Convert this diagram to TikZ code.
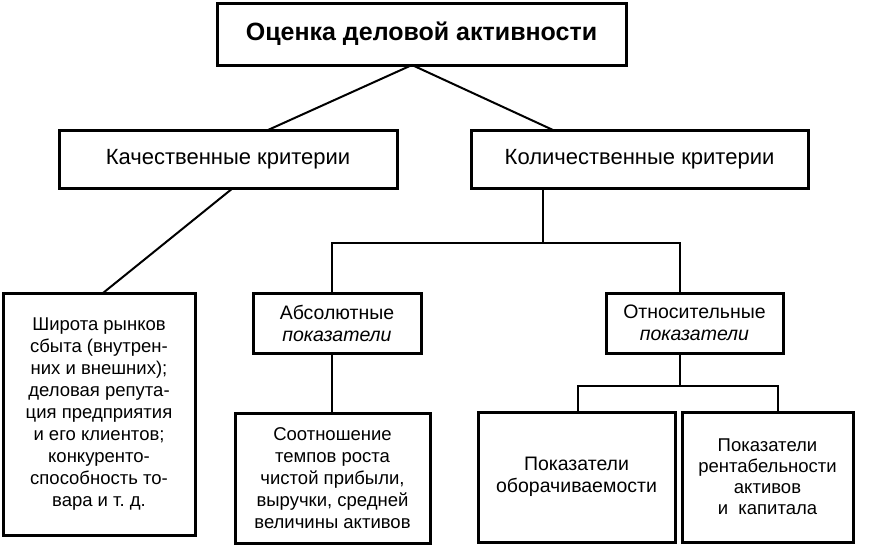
\documentclass[tikz,border=0pt]{standalone}
\usepackage{fontspec}
\setmainfont{Liberation Sans}
\frenchspacing
\begin{document}
\begin{tikzpicture}[x=1pt,y=-1pt,
  box/.style={draw,line width=3pt,inner sep=0pt,align=center,text=black},
  conn/.style={line width=2pt},
  midtxt/.style={font=\fontsize{18.5}{22}\selectfont},
  smalltxt/.style={font=\fontsize{19.5}{22}\selectfont}]
\useasboundingbox (0,0) rectangle (878,547);
\node[box,font=\fontsize{25}{29}\selectfont\bfseries,minimum width=409pt,minimum height=62pt] (top) at (421.5,34) {Оценка деловой активности};
\node[box,font=\fontsize{22}{26}\selectfont,minimum width=338pt,minimum height=58pt] (qual) at (228,159) {Качественные критерии};
\node[box,font=\fontsize{22}{26}\selectfont,minimum width=337pt,minimum height=58pt] (quant) at (639.5,159) {Количественные критерии};
\node[box,midtxt,minimum width=192pt,minimum height=242pt] (wide) at (99,414) {Широта рынков\\сбыта (внутрен-\\них и внешних);\\деловая репута-\\ция предприятия\\и его клиентов;\\конкуренто-\\способность то-\\вара и т. д.};
\node[box,smalltxt,minimum width=168pt,minimum height=60pt] (abs) at (337,323) {Абсолютные\\\textit{показатели}};
\node[box,midtxt,minimum width=195pt,minimum height=130pt] (ratio) at (332.5,478) {Соотношение\\темпов роста\\чистой прибыли,\\выручки, средней\\величины активов};
\node[box,smalltxt,minimum width=177pt,minimum height=60pt] (rel) at (694.5,323) {Относительные\\\textit{показатели}};
\node[box,font=\fontsize{19.5}{22}\selectfont,minimum width=197pt,minimum height=130pt] (turn) at (576.5,477) {Показатели\\оборачиваемости};
\node[box,font=\fontsize{18.5}{21}\selectfont,minimum width=171pt,minimum height=130pt] (prof) at (767.5,477) {Показатели\\рентабельности\\активов\\и\ \ капитала};
% connectors
\coordinate (tb) at (412,65);
\coordinate (qn) at (268,130);
\coordinate (kn) at (553,130);
\draw[conn] (qn) -- (tb) -- (kn);
\coordinate (qs) at (233,188);
\coordinate (wn) at (103,293);
\draw[conn] (qs) -- (wn);
\coordinate (bus1) at (543,243);
\coordinate (absx) at (332,243);
\coordinate (relx) at (680,243);
\draw[conn] (bus1 |- quant.south) -- (bus1);
\draw[conn] (absx |- abs.north) -- (absx) -- (relx) -- (relx |- rel.north);
\draw[conn] (absx |- abs.south) -- (absx |- ratio.north);
\coordinate (bl) at (578,386);
\coordinate (br) at (778,386);
\draw[conn] (relx |- rel.south) -- (relx |- bl);
\draw[conn] (bl |- turn.north) -- (bl) -- (br) -- (br |- prof.north);
\end{tikzpicture}
\end{document}
